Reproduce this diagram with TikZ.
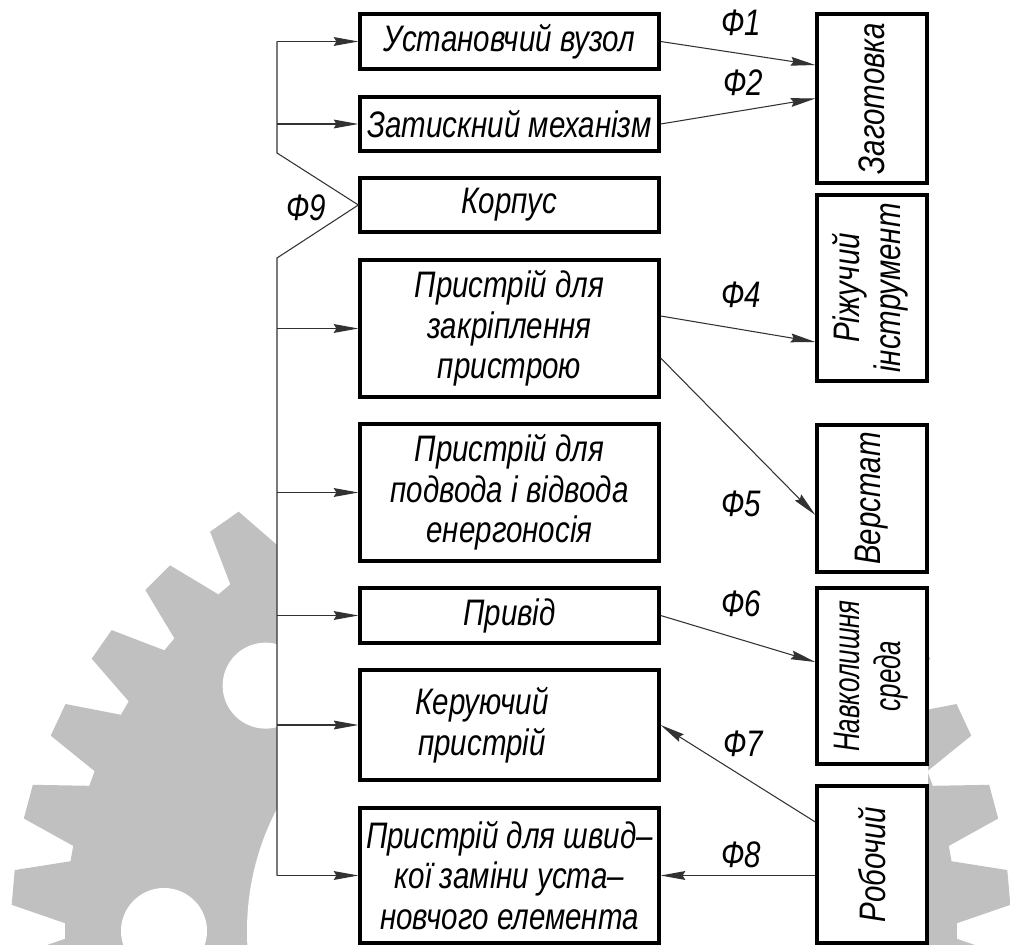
\documentclass[tikz,border=0pt]{standalone}
\usepackage{fontspec}
\setmainfont{Liberation Sans}[FakeStretch=0.8]
\usetikzlibrary{arrows.meta, positioning, calc}
\definecolor{gearfill}{RGB}{192, 192, 192}
\definecolor{linegray}{RGB}{50, 50, 50}

\begin{document}
\begin{tikzpicture}[x=0.02cm, y=-0.02cm,
  block/.style={draw, line width=1.9pt, fill=white, minimum width=5.98cm, align=center, inner sep=2pt, font=\itshape\fontsize{21}{23}\selectfont},
  side/.style={draw, line width=1.9pt, fill=white, minimum width=2.2cm, align=center, inner sep=2pt, font=\itshape\fontsize{21}{23}\selectfont},
  link/.style={draw=linegray, line width=0.6pt},
  arr/.style={link, -{Stealth[length=14pt, width=5pt, inset=1.5pt]}},
  flow/.style={font=\itshape\fontsize{21}{23}\selectfont}]
  \useasboundingbox (0,0) rectangle (1010,945);
  \clip (0,0) rectangle (1010,945);

  % Gear in the background
  \begin{scope}[shift={(511,931)}]
    \fill[gearfill] (1:446) \foreach \a in {5,15,...,355}{ -- (\a-4:446) -- (\a-2:500) -- (\a+2:500) -- (\a+4:446)} -- cycle;
    \fill[white] (0,0) circle[radius=264];
    \foreach \a in {0,45,...,315} \fill[white] (\a:347) circle[radius=43];
  \end{scope}
  \fill[white] (277,0) rectangle (928,945);

  % Device elements
  \node[block, minimum height=1.1cm] (inst) at (509.5,41.5) {Установчий вузол};
  \node[block, minimum height=1.08cm] (clamp) at (509.5,124) {Затискний механізм};
  \node[block, minimum height=1.08cm] (body) at (509.5,205) {Корпус};
  \node[block, minimum height=2.74cm] (fix) at (509.5,328.5) {Пристрій для\\закріплення\\пристрою};
  \node[block, minimum height=2.74cm] (supply) at (509.5,492.5) {Пристрій для\\подвода і відвода\\енергоносія};
  \node[block, minimum height=1.1cm] (drive) at (509.5,615.5) {Привід};
  \node[block, minimum height=2.2cm] (ctrl) at (509.5,725) {Керуючий\hspace*{1.1cm}\\пристрій\hspace*{1.1cm}};
  \node[block, minimum height=2.7cm] (quick) at (509.5,875.5) {Пристрій для швид–\\кої заміни уста–\\новчого елемента};

  % Surroundings
  \node[side, minimum height=3.38cm] (zag) at (872,98.5) {\rotatebox{90}{Заготовка}};
  \node[side, minimum height=3.72cm] (cut) at (872,288) {\rotatebox{90}{\begin{tabular}{@{}c@{}}Ріжучий\\інструмент\end{tabular}}};
  \node[side, minimum height=2.94cm] (mach) at (872,498.5) {\rotatebox{90}{Верстат}};
  \node[side, minimum height=3.52cm] (env) at (872,676) {\rotatebox{90}{\scalebox{0.88}[1]{\begin{tabular}{@{}c@{}}Навколишня\\среда\end{tabular}}}};
  \node[side, minimum height=3.14cm] (work) at (872,864.5) {\rotatebox{90}{Робочий}};

  % Bus from the body
  \coordinate (busx) at (277,0);
  \coordinate (kinkA) at (277,153);
  \coordinate (kinkB) at (277,258);
  \draw[link] (inst.west -| busx) -- (kinkA) -- (body.west) -- (kinkB) -- (quick.west -| busx);
  \foreach \n in {inst,clamp,fix,supply,drive,ctrl,quick}
    \draw[arr] (\n.west -| busx) -- (\n.west);

  % Functions
  \draw[arr] (inst.east) -- ([yshift=0.67cm]zag.west);
  \draw[arr] (clamp.east) -- (zag.west);
  \draw[arr] ([yshift=0.25cm]fix.east) -- ([yshift=-1.08cm]cut.west);
  \draw[arr] ([yshift=-0.59cm]fix.east) -- ([yshift=-0.33cm]mach.west);
  \draw[arr] (drive.east) -- ([yshift=0.28cm]env.west);
  \draw[arr] ([yshift=0.85cm]work.west) -- (ctrl.east);
  \draw[arr] (work.west |- quick.east) -- (quick.east);

  \node[flow] (f1) at (741,23) {Ф1};
  \node[flow] (f2) at (743,83) {Ф2};
  \node[flow] (f4) at (741,295) {Ф4};
  \node[flow] (f5) at (741,504) {Ф5};
  \node[flow] (f6) at (741,604) {Ф6};
  \node[flow] (f7) at (743,744) {Ф7};
  \node[flow] (f8) at (741,855) {Ф8};
  \node[flow] (f9) at (306,208) {Ф9};
\end{tikzpicture}
\end{document}
